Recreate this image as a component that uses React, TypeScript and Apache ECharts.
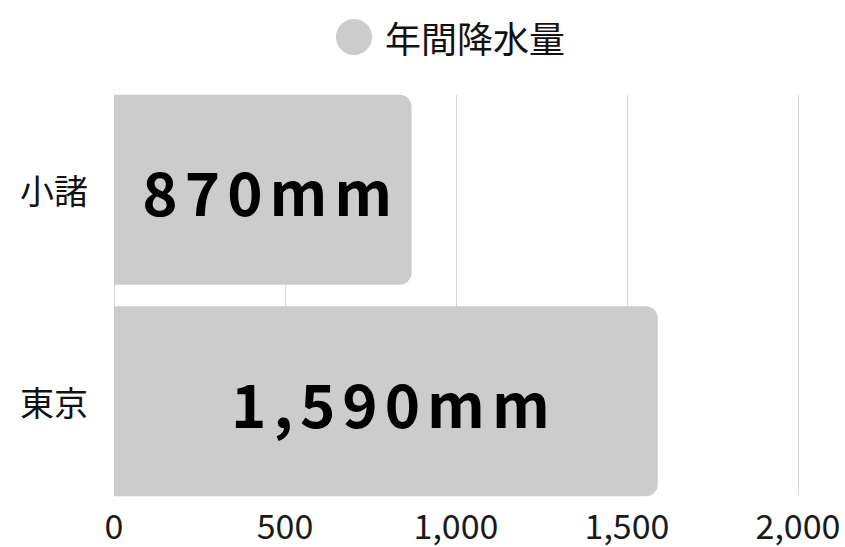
import React, { useEffect, useRef } from "react";
import * as echarts from "echarts";

const categories = ["小諸", "東京"];
const rainfall = [870, 1590];
const seriesName = "年間降水量";
const xMin = 0;
const xMax = 2000;
const xInterval = 500;

const FONT = '"Noto Sans CJK JP", "Noto Sans", sans-serif';

export default function App() {
  const ref = useRef<HTMLDivElement>(null);
  useEffect(() => {
    if (!ref.current) return;
    const chart = echarts.init(ref.current, null, { renderer: "svg" });
    chart.setOption({
      animation: false,
      textStyle: { fontFamily: FONT },
      legend: {
        data: [{ name: seriesName, icon: "circle" }],
        left: 331,
        top: 14,
        itemWidth: 36,
        itemHeight: 36,
        itemGap: 10,
        textStyle: { fontSize: 36, color: "#111", fontFamily: FONT, padding: [0, 0, 0, 8] },
        selectedMode: false,
      },
      grid: [
        { left: 114, right: 47, top: 84, bottom: 40, containLabel: false },
        { left: 114, right: 47, top: 95, bottom: 52, containLabel: false },
      ],
      xAxis: [
        {
          gridIndex: 0,
          type: "value",
          min: xMin,
          max: xMax,
          interval: xInterval,
          axisLine: { show: false },
          axisTick: { show: false },
          axisLabel: { show: false },
          splitLine: { show: false },
        },
        {
          gridIndex: 1,
          type: "value",
          min: xMin,
          max: xMax,
          interval: xInterval,
          axisLine: { show: false },
          axisTick: { show: false },
          axisLabel: {
            fontSize: 34,
            color: "#1a1a1a",
            fontFamily: FONT,
            margin: 12,
            formatter: (v: number) => v.toLocaleString("en-US"),
          },
          splitLine: { show: true, lineStyle: { color: "#d9d9d9", width: 1 } },
        },
      ],
      yAxis: [
        {
          gridIndex: 0,
          type: "category",
          data: categories,
          inverse: true,
          axisLine: { show: false },
          axisTick: { show: false },
          axisLabel: { fontSize: 34, color: "#111", fontFamily: FONT, margin: 26 },
        },
        {
          gridIndex: 1,
          type: "category",
          data: categories,
          inverse: true,
          show: false,
        },
      ],
      series: [
        {
          name: seriesName,
          type: "bar",
          xAxisIndex: 0,
          yAxisIndex: 0,
          data: rainfall,
          barWidth: 190,
          itemStyle: { color: "#cccccc", borderRadius: [0, 12, 12, 0] },
          label: {
            show: true,
            position: "inside",
            offset: [8, 0],
            fontSize: 60,
            fontWeight: "bold",
            color: "#000",
            fontFamily: FONT,
            formatter: (p: any) => p.value.toLocaleString("en-US") + "mm",
          },
          emphasis: { disabled: true },
        },
      ],
    });
    const applySpacing = () => {
      const texts = ref.current?.querySelectorAll("text");
      texts?.forEach((t) => {
        if ((t.textContent || "").endsWith("mm")) {
          (t as SVGTextElement).style.letterSpacing = "7px";
        }
      });
    };
    applySpacing();
    chart.on("finished", applySpacing);
    return () => {
      chart.dispose();
    };
  }, []);
  return (
    <div
      ref={ref}
      style={{ position: "fixed", left: 0, top: 0, width: 845, height: 547, background: "#fff" }}
    />
  );
}
